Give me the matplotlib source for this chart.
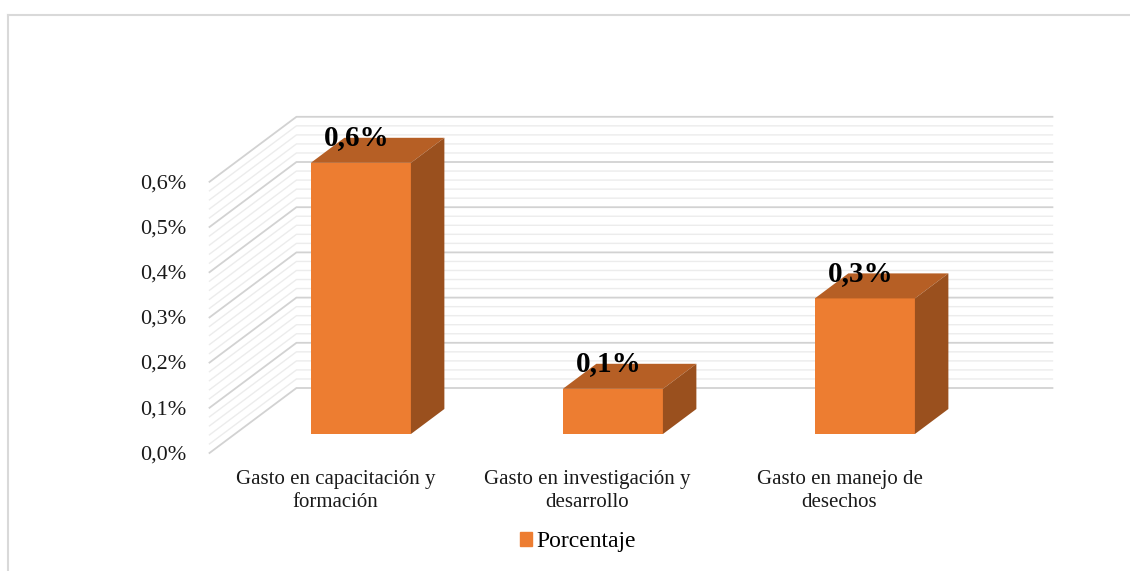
import numpy as np
import matplotlib.pyplot as plt
from matplotlib.patches import Polygon, Patch
from matplotlib.lines import Line2D

plt.rcParams['font.family'] = ['Liberation Serif', 'DejaVu Serif']

categories = ["Gasto en capacitación y\nformación",
              "Gasto en investigación y\ndesarrollo",
              "Gasto en manejo de\ndesechos"]
values = [0.6, 0.1, 0.3]
value_labels = ["0,6%", "0,1%", "0,3%"]
tick_values = [0.0, 0.1, 0.2, 0.3, 0.4, 0.5, 0.6]
tick_labels = ["0,0%", "0,1%", "0,2%", "0,3%", "0,4%", "0,5%", "0,6%"]
series_name = "Porcentaje"

# oblique "3d" projection: depth d goes from front wall (0) to back wall (1)
DX = 0.345     # x shift (category units) per unit of depth
DY = 0.1438    # y shift (percent units) per unit of depth
BAR_W = 0.397
D0, D1 = 0.292, 0.677   # bar front / back depth
YMAX = 0.6

front = '#ED7D31'
top = '#B65F25'
side = '#9A501E'


def proj(x, v, d):
    return (x + d * DX, v + d * DY)


fig = plt.figure(figsize=(11.3, 5.71), dpi=100)
ax = fig.add_axes([0, 0, 1, 1])
ax.set_xlim(-335.5 / 252, (1130 - 335.5) / 252)
ax.set_ylim((453 - 571) / 452, 453 / 452)
ax.axis('off')

# chart border
fig.add_artist(Line2D([7.5 / 1130, 7.5 / 1130], [0, 1 - 14.5 / 571], color='#d9d9d9', lw=1.5))
fig.add_artist(Line2D([7.5 / 1130, 1], [1 - 14.5 / 571, 1 - 14.5 / 571], color='#d9d9d9', lw=1.5))

# walls with grid lines
xl, xr = -0.5, len(categories) - 0.5
for k, v in enumerate(np.round(np.arange(0, YMAX + 0.001, 0.02), 2)):
    major = (k % 5 == 0)
    c = '#d2d2d2' if major else '#ececec'
    lw = 1.3 if major else 1.0
    p0 = proj(xl, v, 0)
    p1 = proj(xl, v, 1)
    p2 = proj(xr, v, 1)
    ax.plot([p0[0], p1[0], p2[0]], [p0[1], p1[1], p2[1]], color=c, lw=lw, zorder=1)

# bars
for i, v in enumerate(values):
    xa, xb = i - BAR_W / 2, i + BAR_W / 2
    face = [proj(xa, 0, D0), proj(xb, 0, D0), proj(xb, v, D0), proj(xa, v, D0)]
    topf = [proj(xa, v, D0), proj(xb, v, D0), proj(xb, v, D1), proj(xa, v, D1)]
    sidef = [proj(xb, 0, D0), proj(xb, 0, D1), proj(xb, v, D1), proj(xb, v, D0)]
    ax.add_patch(Polygon(face, closed=True, fc=front, ec='none', zorder=3))
    ax.add_patch(Polygon(topf, closed=True, fc=top, ec='none', zorder=3))
    ax.add_patch(Polygon(sidef, closed=True, fc=side, ec='none', zorder=3))
    lx, ly = proj(i - 0.016, v, D0)
    ly = proj(i, v, D1)[1]
    ax.text(lx, ly, value_labels[i], ha='center', va='center', fontsize=21,
            fontweight='bold', color='black', zorder=5)

# y tick labels on the front edge
for v, t in zip(tick_values, tick_labels):
    ax.text(xl - 0.093, v - 0.004, t, ha='right', va='center', fontsize=16, color='#1a1a1a')

# category labels
for i, c in enumerate(categories):
    ax.text(i, -0.084, c, ha='center', va='center', fontsize=15, linespacing=1.32, color='#1a1a1a')

fig.legend(handles=[Patch(color=front, label=series_name)], loc='center',
           bbox_to_anchor=(578 / 1130, 1 - 542 / 571), frameon=False, fontsize=17,
           handlelength=0.52, handleheight=0.52, handletextpad=0.2)

fig.savefig('out.png', dpi=100)
